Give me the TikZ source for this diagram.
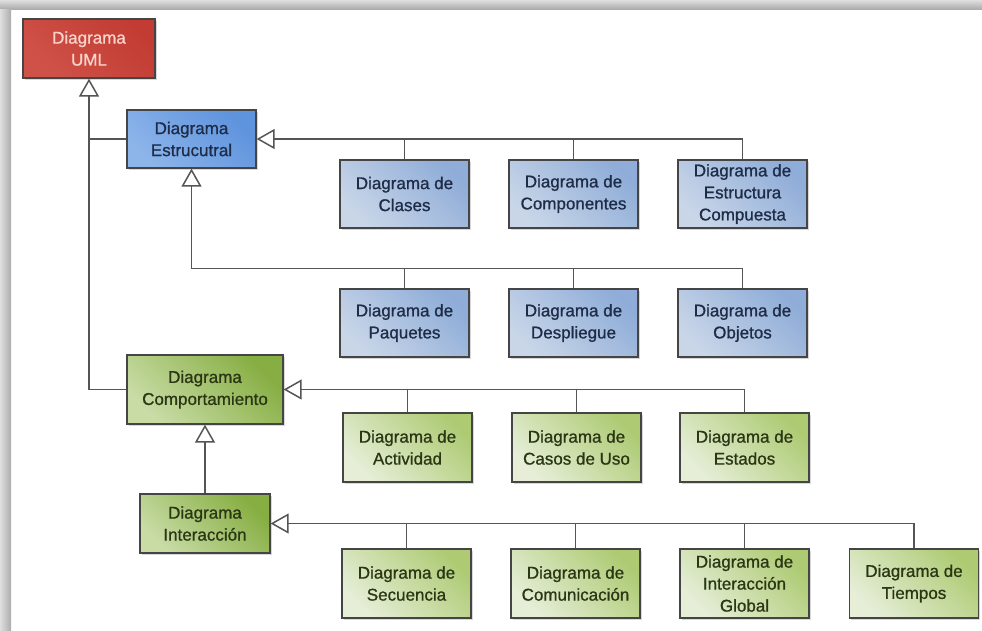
\documentclass[tikz,border=0pt]{standalone}
\usepackage{fontspec}
\setmainfont{Liberation Sans}
\newfontfamily\boxfont{Liberation Sans}[FakeBold=0.9]
\usetikzlibrary{arrows.meta,shadows}
\definecolor{bordc}{HTML}{454545}
\definecolor{linec}{HTML}{555555}
\definecolor{umlA}{HTML}{C23C33}
\definecolor{umlB}{HTML}{CF5248}
\definecolor{umlT}{HTML}{F9D4CC}
\definecolor{estA}{HTML}{5E93DD}
\definecolor{estB}{HTML}{8DB5EA}
\definecolor{bluA}{HTML}{8FADD8}
\definecolor{bluB}{HTML}{C9D6E8}
\definecolor{bluT}{HTML}{1E2C48}
\definecolor{comA}{HTML}{86AE42}
\definecolor{comB}{HTML}{C9DCA6}
\definecolor{grnA}{HTML}{AECB74}
\definecolor{grnB}{HTML}{E6EED8}
\definecolor{grnT}{HTML}{2A3614}
\tikzset{
  box/.style={draw=bordc, line width=1.3pt, align=center, inner sep=0pt,
    font=\boxfont\fontsize{17}{22}\selectfont,
    drop shadow={shadow xshift=1.5pt, shadow yshift=-1.5pt, opacity=0.3}},
  umlbox/.style={box, left color=umlB, right color=umlA, shading angle=135, text=umlT,
    minimum width=132pt, minimum height=59pt},
  estbox/.style={box, left color=estB, right color=estA, shading angle=135, text=bluT,
    minimum width=129pt, minimum height=58pt},
  blubox/.style={box, left color=bluB, right color=bluA, shading angle=135, text=bluT,
    minimum width=129pt, minimum height=68pt},
  combox/.style={box, left color=comB, right color=comA, shading angle=135, text=grnT,
    minimum width=156pt, minimum height=69pt},
  intbox/.style={box, left color=comB, right color=comA, shading angle=135, text=grnT,
    minimum width=130pt, minimum height=59pt},
  grnbox/.style={box, left color=grnB, right color=grnA, shading angle=135, text=grnT,
    minimum width=129pt, minimum height=69pt},
  conn/.style={draw=linec, line width=1.5pt},
  gen/.style={conn, -{Triangle[open, length=18pt, width=20pt, fill=white]}},
}
\begin{document}
\begin{tikzpicture}[x=1pt,y=-1pt]
\useasboundingbox (0,0) rectangle (982,630);
\fill[white] (0,0) rectangle (982,630);
\shade[top color=gray!25, bottom color=gray!65] (0,0) rectangle (982,9);
\shade[left color=gray!25, right color=gray!65] (0,9) rectangle (11,630);

% nodes
\node[umlbox] (uml) at (89,48.5) {Diagrama\\UML};
\node[estbox] (est) at (191.5,139) {Diagrama\\Estrucutral};
\node[blubox] (clases) at (404.5,194) {Diagrama de\\Clases};
\node[blubox] (compo) at (573.5,194) {Diagrama de\\Componentes};
\node[blubox] (ecomp) at (742.5,194) {Diagrama de\\Estructura\\Compuesta};
\node[blubox] (paq) at (404.5,323) {Diagrama de\\Paquetes};
\node[blubox] (desp) at (573.5,323) {Diagrama de\\Despliegue};
\node[blubox] (obj) at (742.5,323) {Diagrama de\\Objetos};
\node[combox] (comp) at (205,389.5) {Diagrama\\Comportamiento};
\node[grnbox] (act) at (407.5,447.5) {Diagrama de\\Actividad};
\node[grnbox] (casos) at (576.5,447.5) {Diagrama de\\Casos de Uso};
\node[grnbox] (estados) at (744.5,447.5) {Diagrama de\\Estados};
\node[intbox] (inter) at (205,523.5) {Diagrama\\Interacción};
\node[grnbox] (sec) at (406.5,583.5) {Diagrama de\\Secuencia};
\node[grnbox] (comu) at (575.5,583.5) {Diagrama de\\Comunicación};
\node[grnbox] (iglob) at (744.5,583.5) {Diagrama de\\Interacción\\Global};
\node[grnbox] (tiem) at (914,583.5) {Diagrama de\\Tiempos};

% UML generalisations
\draw[conn] (est.west) -- (est.west -| uml.south);
\draw[gen] (comp.west) -| (uml.south);

% Estructural right bus
\draw[conn] (clases.north) -- (clases.north |- est.east);
\draw[conn] (compo.north) -- (compo.north |- est.east);
\draw[gen] (ecomp.north) |- (est.east);

% Estructural bottom bus
\draw[conn] (paq.north) -- ++(0,-20);
\draw[conn] (desp.north) -- ++(0,-20);
\draw[gen] (obj.north) -- ++(0,-20) -| (est.south);

% Comportamiento right bus
\draw[conn] (act.north) -- (act.north |- comp.east);
\draw[conn] (casos.north) -- (casos.north |- comp.east);
\draw[gen] (estados.north) |- (comp.east);

% Interaccion
\draw[gen] (inter.north) -- (comp.south);
\draw[conn] (sec.north) -- (sec.north |- inter.east);
\draw[conn] (comu.north) -- (comu.north |- inter.east);
\draw[conn] (iglob.north) -- (iglob.north |- inter.east);
\draw[gen] (tiem.north) |- (inter.east);
\end{tikzpicture}
\end{document}
